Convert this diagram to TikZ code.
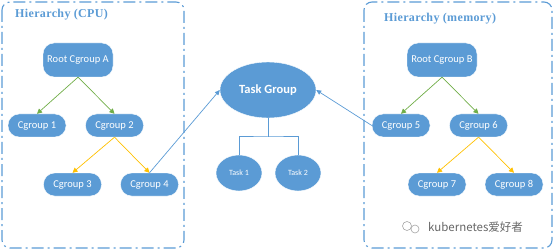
\documentclass[tikz,border=0pt]{standalone}
\usepackage{fontspec}
\setmainfont{Carlito}
\newfontfamily\titlefont[LetterSpace=3]{Liberation Serif}
\newfontfamily\cjk{Noto Sans CJK SC}
\usetikzlibrary{arrows.meta,shapes.geometric}
\definecolor{obl}{HTML}{5B9BD5}
\definecolor{ogr}{HTML}{70AD47}
\definecolor{oye}{HTML}{FFC000}
\tikzset{
  frame/.style={draw=obl, line width=1.1pt, rounded corners=8pt, dash pattern=on 12pt off 4pt on 2pt off 4pt},
  ttl/.style={text=obl, font=\titlefont\bfseries\fontsize{12}{14}\selectfont, anchor=west, inner sep=0pt},
  rootbox/.style={fill=obl, draw=white, line width=0.4pt, rounded corners=11pt, minimum width=70pt, minimum height=34pt, inner sep=0pt, text=white, font=\fontsize{10.5}{12}\selectfont},
  cgbox/.style={fill=obl, draw=white, line width=0.4pt, rounded corners=11pt, minimum width=58pt, minimum height=23pt, inner sep=0pt, text=white, font=\fontsize{10.5}{12}\selectfont},
  bigell/.style={ellipse, fill=obl, draw=white, line width=0.4pt, minimum width=96pt, minimum height=56pt, inner sep=0pt, text=white, font=\bfseries\fontsize{12.5}{14}\selectfont},
  smell/.style={ellipse, fill=obl, draw=white, line width=0.4pt, minimum width=46pt, minimum height=36pt, inner sep=0pt, text=white, font=\fontsize{8}{10}\selectfont},
  garrow/.style={draw=ogr, line width=0.7pt, -{Triangle[length=5pt,width=5pt]}},
  yarrow/.style={draw=oye, line width=0.7pt, -{Triangle[length=5pt,width=5pt]}},
  barrow/.style={draw=obl, line width=0.7pt, -{Triangle[length=5pt,width=4.5pt]}},
  tline/.style={draw=obl, line width=1pt},
}
\begin{document}
\begin{tikzpicture}[x=1pt,y=-1pt]
\useasboundingbox (0,0) rectangle (554,251);
% frames
\draw[frame] (2,2) rectangle (184,248);
\draw[frame] (364,2) rectangle (552,248);
\node[ttl] (t1ttl) at (15,15) {Hierarchy (CPU)};
\node[ttl] (t2ttl) at (384,19) {Hierarchy (memory)};
% left tree
\node[rootbox] (ra) at (78,60) {Root Cgroup A};
\node[cgbox] (c1) at (37,125.5) {Cgroup 1};
\node[cgbox] (c2) at (114.5,125.5) {Cgroup 2};
\node[cgbox] (c3) at (72.5,184.5) {Cgroup 3};
\node[cgbox] (c4) at (149.5,184.5) {Cgroup 4};
\draw[garrow] (ra.south) -- (c1.north);
\draw[garrow] (ra.south) -- (c2.north);
\draw[yarrow] (c2.south) -- (c3.north);
\draw[yarrow] (c2.south) -- (c4.north);
% right tree
\node[rootbox] (rb) at (442,60) {Root Cgroup B};
\node[cgbox] (c5) at (401,125.5) {Cgroup 5};
\node[cgbox] (c6) at (478.5,125.5) {Cgroup 6};
\node[cgbox] (c7) at (437,184.5) {Cgroup 7};
\node[cgbox] (c8) at (514,184.5) {Cgroup 8};
\draw[garrow] (rb.south) -- (c5.north);
\draw[garrow] (rb.south) -- (c6.north);
\draw[yarrow] (c6.south) -- (c7.north);
\draw[yarrow] (c6.south) -- (c8.north);
% task group
\node[bigell] (tg) at (268,90) {Task Group};
\node[smell] (k1) at (239,173) {Task 1};
\node[smell] (k2) at (298,173) {Task 2};
\coordinate (bar) at (268,137);
\draw[tline] (tg.south) -- (bar);
\draw[tline] (k1.north) |- (bar) -| (k2.north);
\draw[barrow] (c4.north) -- (tg.west);
\draw[barrow] (c5.west) -- (tg.east);
% watermark
\draw[gray!70, line width=0.6pt] (407,226) circle (4.5pt);
\draw[gray!70, line width=0.6pt, fill=white] (415,229) circle (4pt);
\node[text=gray!80!black, font=\cjk\fontsize{11.5}{13}\selectfont, anchor=west, inner sep=0pt] (wm) at (428,227) {kubernetes爱好者};
\end{tikzpicture}
\end{document}
